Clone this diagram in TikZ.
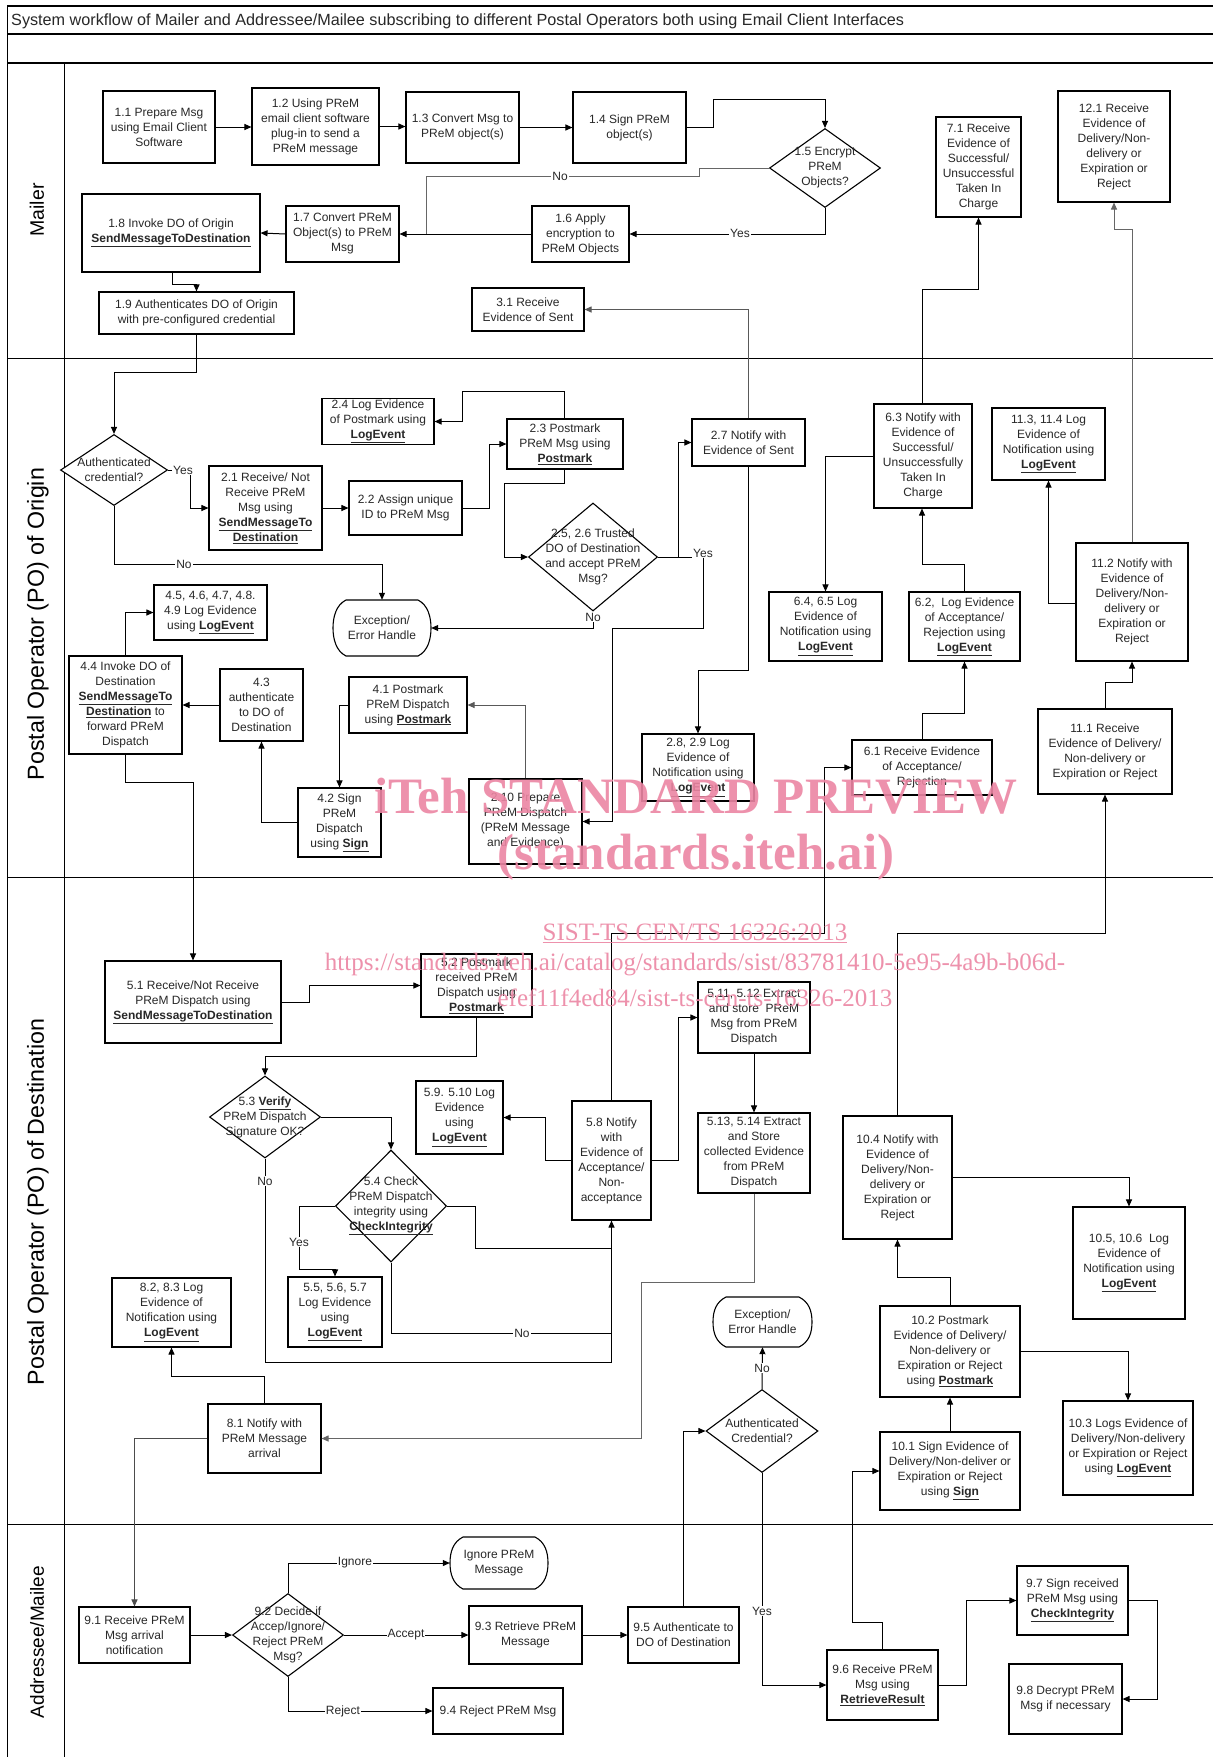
\documentclass[tikz,border=0pt]{standalone}
\usepackage{fontspec}
\setmainfont{Liberation Sans}
\newfontfamily\wmfont{Liberation Serif}
\usetikzlibrary{arrows.meta,shapes.geometric}
\newcommand\fs{\fontsize{12}{15}\selectfont}
\newcommand\ub[1]{\underline{\textbf{#1}}}
\definecolor{wm}{RGB}{236,134,163}
\definecolor{txt}{RGB}{40,40,40}
\tikzset{
  box/.style={draw, line width=1.1pt, fill=white, inner sep=1pt, align=center, font=\fs, text=txt},
  dia/.style={draw, diamond, line width=1.1pt, fill=white, inner sep=0pt},
  termline/.style={line width=1.1pt, fill=white},
  dtxt/.style={align=center, font=\fs, text=txt, inner sep=0pt},
  lbl/.style={fill=white, inner sep=1pt, font=\fs, text=txt},
  arr/.style={line width=1pt, -{Triangle[length=7pt,width=6pt]}},
  ln/.style={line width=1pt},
  lane/.style={rotate=90, text=black},
  wmb/.style={text=wm, font=\wmfont\bfseries\fontsize{51}{55}\selectfont, opacity=0.9, inner sep=0pt},
  wmr/.style={text=wm, font=\wmfont\fontsize{25}{28}\selectfont, opacity=0.9, inner sep=0pt}
}
\newcommand\mybox[6]{\node[box, minimum width={#4-#2}, minimum height={#5-#3}] (#1) at ({(#2+#4)/2},{(#3+#5)/2}) {#6};}
\newcommand\mydia[6]{\node[dia, minimum width=#4, minimum height=#5] (#1) at (#2,#3) {}; \node[dtxt] (#1t) at (#1.center) {#6};}
\newcommand\myterm[6]{%
  \draw[termline] ({#2+13},#3) -- ({#4-13},#3)
     .. controls ({#4-3},{#3+5}) and (#4,{(#3+#5)/2-11}) .. (#4,{(#3+#5)/2})
     .. controls (#4,{(#3+#5)/2+11}) and ({#4-3},{#5-5}) .. ({#4-13},#5)
     -- ({#2+13},#5)
     .. controls ({#2+3},{#5-5}) and (#2,{(#3+#5)/2+11}) .. (#2,{(#3+#5)/2})
     .. controls (#2,{(#3+#5)/2-11}) and ({#2+3},{#3+5}) .. cycle;
  \node[dtxt, minimum width={#4-#2}, minimum height={#5-#3}] (#1) at ({(#2+#4)/2},{(#3+#5)/2}) {#6};}
\begin{document}
\begin{tikzpicture}[x=1pt,y=-1pt]
\useasboundingbox (0,0) rectangle (1213,1757);
\fill[white] (0,0) rectangle (1213,1757);
% frame
\draw[line width=1.3pt] (7,6) -- (1213,6);
\draw[line width=1.3pt] (7,34) -- (1213,34);
\draw[line width=1.3pt] (7,63) -- (1213,63);
\draw[line width=1pt] (7,6) -- (7,1757);
\draw[line width=1pt] (64,63) -- (64,1757);
\draw[line width=1pt] (7,358) -- (1213,358);
\draw[line width=1pt] (7,877) -- (1213,877);
\draw[line width=1pt] (7,1524) -- (1213,1524);
\node[anchor=west, font=\fontsize{16.2}{18}\selectfont, text=txt, inner sep=0pt] (title) at (11,21) {System workflow of Mailer and Addressee/Mailee subscribing to different Postal Operators both using Email Client Interfaces};
\node[lane, font=\fontsize{19.5}{21}\selectfont] (lmailer) at (37,210) {Mailer};
\node[lane, font=\fontsize{23.2}{25}\selectfont] (lorig) at (38,624) {Postal Operator (PO) of Origin};
\node[lane, font=\fontsize{23.2}{25}\selectfont] (ldest) at (38,1202) {Postal Operator (PO) of Destination};
\node[lane, font=\fontsize{19}{21}\selectfont] (ladd) at (37,1642) {Addressee/Mailee};

% ---------------- Mailer
\mybox{n11}{103}{91}{215}{163}{1.1 Prepare Msg\\using Email Client\\Software}
\mybox{n12}{252}{88}{379}{165}{1.2 Using PReM\\email client software\\plug-in to send a\\PReM message}
\mybox{n13}{406}{92}{519}{163}{1.3 Convert Msg to\\PReM object(s)}
\mybox{n14}{573}{92}{686}{163}{1.4 Sign PReM\\object(s)}
\mydia{d15}{825}{168}{111}{79}{1.5 Encrypt\\PReM\\Objects?}
\mybox{n16}{532}{206}{629}{262}{1.6 Apply\\encryption to\\PReM Objects}
\mybox{n17}{286}{206}{399}{262}{1.7 Convert PReM\\Object(s) to PReM\\Msg}
\mybox{n18}{82}{194}{260}{272}{1.8 Invoke DO of Origin\\\ub{SendMessageToDestination}}
\mybox{n19}{99}{292}{294}{334}{1.9 Authenticates DO of Origin\\with pre-configured credential}
\mybox{n31}{472}{288}{584}{331}{3.1 Receive\\Evidence of Sent}
\mybox{n71}{936}{117}{1021}{217}{7.1 Receive\\Evidence of\\Successful/\\Unsuccessful\\Taken In\\Charge}
\mybox{n121}{1058}{91}{1170}{202}{12.1 Receive\\Evidence of\\Delivery/Non-\\delivery or\\Expiration or\\Reject}

% ---------------- PO of Origin
\mydia{d20}{114}{470}{107}{71}{Authenticated\\credential?}
\mybox{n21}{209}{466}{322}{550}{2.1 Receive/ Not\\Receive PReM\\Msg using\\\ub{SendMessageTo}\\\ub{Destination}}
\mybox{n22}{349}{481}{462}{535}{2.2 Assign unique\\ID to PReM Msg}
\mybox{n23}{507}{419}{623}{469}{2.3 Postmark\\PReM Msg using\\\ub{Postmark}}
\mybox{n24}{322}{400}{434}{443}{2.4 Log Evidence\\of Postmark using\\\ub{LogEvent}}
\mydia{d25}{593}{557}{129}{108}{2.5, 2.6 Trusted\\DO of Destination\\and accept PReM\\Msg?}
\mybox{n27}{692}{419}{805}{466}{2.7 Notify with\\Evidence of Sent}
\mybox{n28}{642}{734}{754}{801}{2.8, 2.9 Log\\Evidence of\\Notification using\\\ub{LogEvent}}
\mybox{n210}{469}{779}{582}{864}{2.10 Prepare\\PReM Dispatch\\(PReM Message\\and Evidence)}
\mybox{n41}{349}{677}{467}{733}{4.1 Postmark\\PReM Dispatch\\using \ub{Postmark}}
\mybox{n42}{298}{788}{381}{857}{4.2 Sign\\PReM\\Dispatch\\using \ub{Sign}}
\mybox{n43}{220}{669}{303}{741}{4.3\\authenticate\\to DO of\\Destination}
\mybox{n44}{69}{656}{182}{754}{4.4 Invoke DO of\\Destination\\\ub{SendMessageTo}\\\ub{Destination} to\\forward PReM\\Dispatch}
\mybox{n45}{154}{585}{267}{640}{4.5, 4.6, 4.7, 4.8.\\4.9 Log Evidence\\using \ub{LogEvent}}
\myterm{e1}{333}{600}{431}{656}{Exception/\\Error Handle}
\mybox{n63}{874}{404}{972}{508}{6.3 Notify with\\Evidence of\\Successful/\\Unsuccessfully\\Taken In\\Charge}
\mybox{n64}{769}{592}{882}{661}{6.4, 6.5 Log\\Evidence of\\Notification using\\\ub{LogEvent}}
\mybox{n62}{909}{592}{1020}{661}{6.2,~ Log Evidence\\of Acceptance/\\Rejection using\\\ub{LogEvent}}
\mybox{n61}{852}{740}{992}{795}{6.1 Receive Evidence\\of Acceptance/\\Rejection}
\mybox{n111}{1038}{709}{1172}{794}{11.1 Receive\\Evidence of Delivery/\\Non-delivery or\\Expiration or Reject}
\mybox{n112}{1076}{543}{1188}{661}{11.2 Notify with\\Evidence of\\Delivery/Non-\\delivery or\\Expiration or\\Reject}
\mybox{n113}{992}{408}{1105}{480}{11.3, 11.4 Log\\Evidence of\\Notification using\\\ub{LogEvent}}

% ---------------- PO of Destination
\mybox{n51}{105}{961}{281}{1043}{5.1 Receive/Not Receive\\PReM Dispatch using\\\ub{SendMessageToDestination}}
\mybox{n52}{421}{954}{532}{1017}{5.2 Postmark\\received PReM\\Dispatch using\\\ub{Postmark}}
\mydia{d53}{265}{1117}{111}{82}{5.3 \ub{Verify}\\PReM Dispatch\\Signature OK?}
\mydia{d54}{391}{1206}{111}{112}{5.4 Check\\PReM Dispatch\\integrity using\\\ub{CheckIntegrity}}
\mybox{n55}{288}{1277}{382}{1347}{5.5, 5.6, 5.7\\Log Evidence\\using\\\ub{LogEvent}}
\mybox{n82}{112}{1278}{231}{1347}{8.2, 8.3 Log\\Evidence of\\Notification using\\\ub{LogEvent}}
\mybox{n58}{572}{1101}{651}{1220}{5.8 Notify\\with\\Evidence of\\Acceptance/\\Non-\\acceptance}
\mybox{n59}{416}{1081}{503}{1154}{5.9. 5.10 Log\\Evidence\\using\\\ub{LogEvent}}
\mybox{n511}{698}{982}{810}{1053}{5.11, 5.12 Extract\\and store~ PReM\\Msg from PReM\\Dispatch}
\mybox{n513}{698}{1113}{810}{1193}{5.13, 5.14 Extract\\and Store\\collected Evidence\\from PReM\\Dispatch}
\mybox{n81}{208}{1404}{321}{1473}{8.1 Notify with\\PReM Message\\arrival}
\myterm{e2}{713}{1297}{812}{1347}{Exception/\\Error Handle}
\mydia{d90}{762}{1431}{112}{83}{Authenticated\\Credential?}
\mybox{n104}{843}{1116}{952}{1239}{10.4 Notify with\\Evidence of\\Delivery/Non-\\delivery or\\Expiration or\\Reject}
\mybox{n105}{1073}{1207}{1185}{1319}{10.5, 10.6~ Log\\Evidence of\\Notification using\\\ub{LogEvent}}
\mybox{n102}{880}{1306}{1020}{1397}{10.2 Postmark\\Evidence of Delivery/\\Non-delivery or\\Expiration or Reject\\using \ub{Postmark}}
\mybox{n103}{1063}{1401}{1193}{1495}{10.3 Logs Evidence of\\Delivery/Non-delivery\\or Expiration or Reject\\using \ub{LogEvent}}
\mybox{n101}{880}{1432}{1020}{1510}{10.1 Sign Evidence of\\Delivery/Non-deliver or\\Expiration or Reject\\using \ub{Sign}}

% ---------------- Addressee
\mybox{n91}{79}{1607}{190}{1663}{9.1 Receive PReM\\Msg arrival\\notification}
\mydia{d92}{288}{1635}{111}{83}{9.2 Decide if\\Accep/Ignore/\\Reject PReM\\Msg?}
\myterm{ig}{450}{1537}{548}{1589}{Ignore PReM\\Message}
\mybox{n93}{469}{1606}{582}{1664}{9.3 Retrieve PReM\\Message}
\mybox{n95}{628}{1607}{739}{1663}{9.5 Authenticate to\\DO of Destination}
\mybox{n94}{433}{1688}{563}{1734}{9.4 Reject PReM Msg}
\mybox{n96}{827}{1650}{938}{1720}{9.6 Receive PReM\\Msg using\\\ub{RetrieveResult}}
\mybox{n97}{1017}{1566}{1128}{1635}{9.7 Sign received\\PReM Msg using\\\ub{CheckIntegrity}}
\mybox{n98}{1009}{1664}{1122}{1734}{9.8 Decrypt PReM\\Msg if necessary}

% ---------------- connectors: Mailer
\draw[arr] (n11.east) -- (n12.west |- n11.east);
\draw[arr] (n12.east) -- (n13.west |- n12.east);
\draw[arr] (n13.east) -- (n14.west);
\draw[arr] (n14.east) -| (713,99) -| (d15.north);
\draw[ln, black!60] (d15.west) -- (699,168) -- (699,176) -- (426,176) -- (426,0 |- n17.east);
\draw[arr] (d15.south) |- (n16.east);
\draw[arr] (n16.west) -- (n17.east);
\draw[arr] (n17.west) -- (n18.east);
\draw[arr] (172,0 |- n18.south) -- (172,284) -| (n19.north);
\draw[arr] (n19.south) -- (196.5,372) -| (d20.north);
% Origin
\draw[arr] (d20.east) -- (190,470) |- (n21.west);
\draw[arr] (d20.south) -- (114,564) -| (e1.north);
\draw[arr] (n21.east) -- (n22.west |- n21.east);
\draw[arr] (n22.east) -| (489,444) -- (n23.west);
\draw[arr] (564,0 |- n23.north) |- (462,391) |- (n24.east);
\draw[arr] (564,0 |- n23.south) |- (504,483) |- (d25.west);
\draw[arr] (d25.east) -- (703,557) -- (703,628) -| (612,821.5) -- (n210.east);
\draw[arr] (678,557) |- (n27.west);
\draw[arr] (d25.south) -- (593,628) -- (e1.east |- 593,628);
\draw[arr, black!65] (748,0 |- n27.north) |- (n31.east);
\draw[arr] (748,0 |- n27.south) |- (698,670) -- (n28.north);
\draw[arr, black!65] (525,0 |- n210.north) |- (n41.east);
\draw[arr] (n41.west) -| (n42.north);
\draw[arr] (n42.west) -| (n43.south);
\draw[arr] (n43.west) -- (n44.east |- n43.west);
\draw[arr] (n44.north) |- (n45.west);
\draw[arr] (n44.south) |- (193,782) -- (n51.north);
\draw[arr] (922,0 |- n63.north) |- (978.5,289) -- (n71.south);
\draw[arr] (874,456) -| (n64.north);
\draw[arr] (n62.north) |- (922,564) -- (922,0 |- n63.south);
\draw[arr] (922,0 |- n61.north) |- (964.5,713) -- (n62.south);
\draw[arr] (n58.north) |- (824,933) |- (n61.west);
\draw[arr] (897,0 |- n104.north) |- (1105,933) -- (n111.south);
\draw[arr] (n111.north) |- (1132,682) -- (n112.south);
\draw[arr] (1076,603) -| (n113.south);
\draw[arr, black!60] (n112.north) |- (1114,229) -- (n121.south);
% Destination
\draw[arr] (n51.east) -| (309,985.5) -- (n52.west);
\draw[arr] (n52.south) |- (265,1056) -- (d53.north);
\draw[arr] (d53.east) -| (d54.north);
\draw[arr] (d53.south) |- (611.5,1362) -- (n58.south);
\draw[ln] (d54.east) -| (475,1248) -- (611.5,1248);
\draw[ln] (d54.south) |- (611.5,1333);
\draw[arr] (d54.west) -| (299,1269) -| (n55.north);
\draw[arr] (n58.west) -| (545,1117.5) -- (n59.east);
\draw[arr] (n58.east) -| (678,1017.5) -- (n511.west);
\draw[arr] (n511.south) -- (n513.north);
\draw[arr, black!60] (n513.south) |- (641,1282) |- (n81.east);
\draw[arr] (264.5,0 |- n81.north) |- (171.5,1376) -- (n82.south);
\draw[arr, black!70] (n81.west) -| (n91.north);
\draw[arr] (683.5,0 |- n95.north) |- (d90.west);
\draw[arr] (d90.north) -- (e2.south);
\draw[arr] (d90.south) |- (n96.west);
\draw[arr] (n104.east) -| (n105.north);
\draw[arr] (n102.north) |- (897.5,1277) -- (n104.south);
\draw[arr] (n102.east) -| (n103.north);
\draw[arr] (n101.north) -- (n102.south);
\draw[arr] (882,0 |- n96.north) |- (852,1622) |- (n101.west);
% Addressee
\draw[arr] (n91.east) -- (d92.west);
\draw[arr] (d92.north) |- (ig.west);
\draw[arr] (d92.east) -- (n93.west);
\draw[arr] (d92.south) |- (n94.west);
\draw[arr] (n93.east) -- (n95.west);
\draw[arr] (n96.east) -| (966,1600.5) -- (n97.west);
\draw[arr] (n97.east) -| (1157,1699) -- (n98.east);

% labels
\node[lbl] (l1) at (560,176) {No};
\node[lbl] (l2) at (740,233) {Yes};
\node[lbl] (l3) at (183,470) {Yes};
\node[lbl] (l4) at (184,564) {No};
\node[lbl] (l5) at (703,553) {Yes};
\node[lbl] (l6) at (593,617) {No};
\node[lbl] (l7) at (265,1181) {No};
\node[lbl] (l8) at (299,1242) {Yes};
\node[lbl] (l9) at (522,1333) {No};
\node[lbl] (l10) at (762,1368) {No};
\node[lbl] (l11) at (762,1611) {Yes};
\node[lbl] (l12) at (355,1563) {Ignore};
\node[lbl] (l13) at (406,1635) {Accept};
\node[lbl] (l14) at (343,1711) {Reject};

% watermark
\node[wmb] (w1) at (696,796) {iTeh STANDARD PREVIEW};
\node[wmb] (w2) at (696,857) {(standards.iteh.ai)};
\node[wmr] (w3) at (695,933) {\underline{SIST-TS CEN/TS 16326:2013}};
\node[wmr] (w4) at (695,965) {https://standards.iteh.ai/catalog/standards/sist/83781410-5e95-4a9b-b06d-};
\node[wmr] (w5) at (695,998) {efef11f4ed84/sist-ts-cen-ts-16326-2013};
\end{tikzpicture}
\end{document}
